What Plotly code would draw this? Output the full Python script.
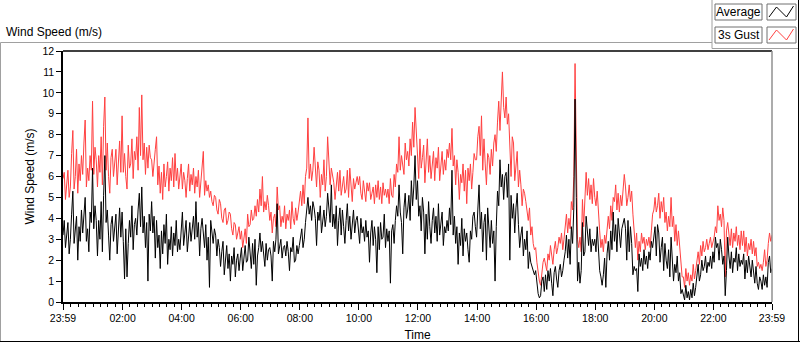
import pandas as pd
import plotly.graph_objects as go

# ---- data: 2.5-minute samples from 23:59 to 23:59 next day (one row per hour) ----
gust = [
    5.9, 6.2, 4.9, 5.6, 6.3, 5.0, 5.5, 7.1, 8.2, 5.4, 6.0, 7.3, 5.2, 6.6, 5.8, 7.0, 6.1, 7.6, 8.7, 5.5, 6.4, 5.8, 7.0, 6.3,
    9.6, 6.1, 7.4, 6.8, 5.5, 7.0, 6.2, 7.9, 5.6, 8.4, 9.8, 6.3, 7.6, 6.0, 5.2, 6.9, 7.3, 6.0, 6.5, 7.3, 5.6, 6.8, 7.7, 6.2,
    8.9, 6.2, 7.1, 6.0, 5.4, 7.5, 6.4, 6.6, 7.8, 5.9, 7.2, 6.8, 7.9, 6.3, 9.3, 7.0, 9.9, 6.8, 7.6, 6.1, 7.4, 6.4, 7.5, 6.9,
    6.8, 6.0, 6.5, 7.3, 7.9, 5.6, 6.5, 5.2, 6.2, 4.9, 6.6, 5.5, 6.0, 6.7, 5.3, 6.4, 5.8, 6.9, 5.5, 7.1, 5.8, 6.4, 5.4, 6.0,
    6.6, 5.4, 6.2, 5.8, 5.0, 5.9, 6.6, 5.3, 6.1, 5.6, 6.4, 5.2, 6.0, 5.5, 6.3, 5.0, 5.9, 6.5, 7.2, 5.1, 5.8, 5.3, 5.6, 5.0,
    5.3, 4.8, 4.6, 5.1, 5.0, 4.4, 4.2, 4.9, 4.7, 4.0, 3.8, 4.4, 4.5, 3.7, 3.9, 4.3, 4.2, 3.5, 3.2, 3.8, 3.7, 3.0, 3.4, 3.6,
    3.0, 3.4, 2.6, 3.2, 3.5, 2.8, 4.2, 3.6, 3.7, 4.4, 3.9, 4.0, 4.6, 4.1, 4.9, 4.3, 5.4, 4.6, 6.0, 4.3, 4.8, 4.4, 5.1, 4.6,
    3.9, 4.3, 3.3, 4.0, 4.2, 3.6, 5.5, 4.4, 4.6, 3.6, 4.1, 3.8, 4.6, 3.5, 4.2, 3.9, 4.4, 3.5, 4.8, 4.0, 3.7, 4.5, 3.9, 4.3,
    4.9, 5.3, 4.6, 5.6, 4.7, 6.0, 6.4, 8.8, 5.9, 6.6, 5.8, 6.3, 7.4, 6.2, 5.5, 6.7, 6.3, 5.0, 6.1, 5.6, 6.8, 5.3, 6.0, 7.9,
    6.5, 5.6, 6.4, 6.1, 5.7, 4.9, 5.8, 6.2, 5.3, 6.3, 5.1, 5.7, 6.0, 5.2, 5.4, 6.3, 5.0, 6.4, 5.5, 4.8, 5.9, 5.4, 5.7, 6.0,
    5.6, 6.0, 5.2, 4.9, 5.8, 5.4, 4.8, 5.7, 5.3, 5.7, 4.9, 5.2, 5.5, 4.7, 5.6, 5.0, 5.8, 4.9, 5.5, 4.7, 5.7, 5.1, 5.4, 5.0,
    5.4, 4.7, 5.9, 5.1, 5.0, 6.1, 5.5, 6.6, 6.2, 7.9, 6.3, 7.0, 6.5, 6.1, 7.6, 6.8, 7.2, 6.5, 7.8, 7.0, 8.6, 7.4, 9.3, 8.1,
    7.2, 5.9, 7.8, 6.4, 6.9, 7.5, 5.7, 6.6, 7.8, 6.2, 7.0, 5.9, 6.4, 7.2, 5.8, 6.9, 6.4, 7.4, 5.8, 6.7, 7.2, 6.1, 6.8, 6.3,
    7.3, 6.9, 7.6, 6.8, 8.3, 6.5, 7.0, 5.6, 6.8, 6.2, 4.9, 6.1, 5.7, 6.6, 5.3, 6.3, 4.7, 6.4, 5.8, 6.6, 5.4, 6.2, 7.1, 6.8,
    6.8, 7.9, 8.4, 7.0, 8.9, 6.3, 7.8, 6.6, 5.6, 7.1, 6.9, 6.1, 7.3, 6.5, 7.6, 8.0, 7.2, 8.6, 9.6, 8.2, 10.0, 11.0, 9.3, 8.8,
    9.8, 8.5, 9.0, 7.3, 6.0, 7.9, 7.6, 5.8, 6.6, 7.2, 5.5, 6.3, 5.6, 4.6, 5.4, 5.2, 4.8, 4.2, 3.9, 4.5, 3.2, 3.6, 2.8, 2.5,
    2.6, 1.9, 1.3, 1.0, 0.8, 1.5, 1.9, 2.1, 1.7, 1.5, 2.3, 2.0, 2.7, 2.2, 1.8, 2.5, 2.9, 2.3, 2.6, 3.1, 2.8, 3.3, 2.5, 3.0,
    3.6, 4.2, 3.3, 4.0, 3.5, 4.8, 4.4, 6.0, 11.4, 7.2, 3.0, 2.6, 3.1, 2.4, 4.9, 3.6, 5.4, 6.2, 5.1, 5.9, 4.9, 5.6, 4.7, 5.9,
    5.0, 4.6, 5.3, 4.1, 3.4, 2.6, 3.0, 2.4, 3.2, 2.8, 3.6, 4.1, 3.5, 4.6, 3.9, 5.0, 4.8, 5.6, 4.4, 5.2, 4.3, 5.1, 4.6, 5.4,
    6.1, 5.5, 4.6, 5.0, 5.6, 4.8, 5.3, 4.2, 3.2, 2.6, 3.3, 2.0, 2.9, 2.4, 3.3, 2.8, 3.1, 2.5, 3.0, 2.7, 3.1, 2.6, 3.4, 4.2,
    4.4, 5.0, 4.3, 4.6, 5.2, 4.0, 4.8, 4.3, 5.0, 3.8, 4.3, 3.4, 4.1, 3.6, 5.0, 3.6, 4.1, 2.9, 3.7, 2.7, 3.4, 2.5, 1.6, 1.2,
    1.2, 0.7, 1.6, 1.0, 1.4, 0.8, 1.3, 1.0, 1.8, 1.1, 1.5, 1.9, 2.4, 1.8, 2.7, 2.2, 2.9, 2.4, 2.6, 3.0, 2.5, 2.8, 3.1, 2.6,
    2.9, 3.1, 3.6, 3.3, 4.6, 3.9, 4.2, 3.6, 4.5, 3.9, 1.2, 3.4, 3.8, 3.1, 2.7, 3.5, 2.6, 3.3, 2.9, 3.6, 2.7, 3.2, 2.5, 3.4,
    2.7, 3.4, 2.4, 3.1, 2.2, 2.8, 2.5, 3.0, 2.3, 2.9, 2.2, 2.6, 1.7, 1.9, 1.6, 1.8, 1.5, 1.9, 2.5, 1.7, 2.0, 2.8, 3.3, 2.9,
    3.2,
]
average = [
    3.2, 3.9, 2.6, 3.4, 3.8, 2.3, 3.0, 4.2, 5.3, 2.8, 3.4, 4.1, 2.0, 3.6, 2.9, 4.4, 3.3, 4.0, 5.0, 2.9, 3.5, 2.4, 4.3, 3.8,
    6.4, 3.5, 4.6, 3.9, 2.2, 3.9, 3.0, 4.8, 2.4, 5.1, 7.0, 3.8, 4.4, 3.2, 2.0, 3.7, 4.1, 2.9, 3.4, 4.2, 2.3, 3.8, 4.5, 3.1,
    4.3, 2.9, 1.1, 3.5, 1.2, 2.8, 3.9, 3.1, 4.6, 2.5, 3.7, 4.0, 3.2, 4.4, 5.2, 3.6, 5.5, 3.3, 4.1, 2.6, 3.8, 1.0, 4.2, 3.4,
    4.8, 3.3, 4.1, 2.1, 3.9, 2.6, 3.2, 1.6, 3.4, 2.3, 3.7, 2.8, 4.2, 1.8, 3.0, 2.5, 3.6, 2.2, 3.3, 2.7, 3.9, 2.4, 3.0, 2.5,
    3.6, 4.3, 2.7, 3.5, 3.9, 2.4, 3.2, 3.8, 2.9, 3.4, 4.1, 3.0, 4.8, 3.1, 3.8, 2.2, 3.5, 4.0, 3.3, 2.6, 3.7, 2.0, 3.1, 0.7,
    3.9, 3.4, 2.8, 3.5, 3.2, 2.2, 3.0, 2.6, 1.7, 2.4, 2.9, 1.3, 2.1, 2.7, 1.6, 2.3, 1.0, 2.2, 1.8, 2.6, 1.2, 2.0, 2.3, 1.5,
    2.1, 2.6, 1.5, 2.2, 2.7, 1.9, 2.0, 3.1, 2.4, 1.6, 2.8, 1.8, 3.0, 0.8, 2.2, 2.6, 3.3, 2.4, 2.9, 2.2, 1.7, 2.8, 2.0, 2.5,
    2.6, 2.2, 1.0, 2.9, 2.4, 3.0, 4.7, 2.3, 2.8, 3.0, 2.1, 2.6, 2.7, 2.2, 2.9, 2.4, 1.5, 2.6, 2.4, 3.1, 1.9, 2.0, 2.7, 2.3,
    2.7, 3.2, 3.5, 2.6, 3.0, 3.8, 4.4, 5.0, 4.2, 4.6, 3.9, 4.8, 4.5, 4.0, 2.7, 4.3, 3.9, 4.6, 3.3, 3.8, 4.4, 3.6, 4.1, 5.2,
    4.3, 3.8, 5.6, 3.6, 4.2, 3.5, 4.6, 2.7, 3.9, 4.5, 3.2, 4.4, 3.6, 2.8, 3.9, 4.7, 3.4, 4.1, 3.0, 3.8, 4.4, 3.3, 3.9, 4.1,
    3.5, 2.8, 4.0, 3.3, 3.6, 2.9, 3.9, 3.1, 3.4, 1.9, 3.3, 3.9, 2.7, 3.6, 3.0, 1.4, 3.6, 2.5, 3.8, 3.0, 3.1, 4.2, 2.6, 3.5,
    2.9, 3.4, 0.9, 3.4, 3.7, 2.8, 3.9, 4.6, 4.1, 5.6, 4.3, 3.8, 2.3, 4.5, 5.2, 4.0, 4.4, 5.1, 3.9, 5.8, 4.6, 5.5, 7.0, 4.9,
    5.8, 4.1, 4.6, 3.4, 5.0, 4.3, 2.3, 4.2, 3.0, 4.8, 3.6, 2.8, 3.9, 4.5, 3.3, 4.1, 2.9, 4.7, 3.2, 3.8, 4.3, 2.7, 3.6, 3.3,
    3.9, 3.4, 4.5, 3.7, 6.3, 3.2, 4.1, 2.8, 3.6, 1.8, 3.3, 2.7, 4.0, 2.2, 3.5, 2.9, 3.3, 2.5, 1.9, 3.4, 3.0, 4.1, 4.3, 3.6,
    3.1, 4.4, 5.6, 3.5, 4.3, 2.4, 3.8, 4.2, 2.0, 4.5, 3.2, 2.6, 3.9, 2.8, 3.4, 1.0, 3.6, 5.3, 4.6, 6.8, 5.5, 6.1, 4.9, 6.0,
    6.2, 5.0, 6.6, 2.0, 5.1, 4.0, 4.7, 3.3, 4.5, 5.2, 3.7, 2.6, 3.2, 3.6, 2.2, 3.0, 2.5, 3.4, 1.6, 2.4, 1.9, 1.7, 1.5, 1.3,
    1.5, 0.8, 0.4, 0.2, 0.3, 1.0, 1.2, 0.5, 1.3, 0.6, 1.5, 1.0, 1.6, 0.9, 0.3, 1.4, 1.7, 1.1, 0.7, 1.5, 1.8, 1.2, 1.5, 2.0,
    2.4, 3.2, 2.1, 3.0, 1.8, 3.6, 2.8, 4.5, 9.7, 5.0, 1.0, 1.9, 0.9, 1.5, 3.8, 2.2, 2.4, 4.1, 3.3, 2.7, 3.5, 2.4, 3.0, 2.7,
    3.0, 2.4, 3.6, 2.1, 1.5, 1.2, 0.8, 1.3, 2.1, 0.7, 2.3, 2.9, 2.0, 3.4, 2.5, 4.3, 2.9, 3.7, 2.4, 4.0, 3.2, 2.6, 3.5, 3.8,
    4.0, 3.5, 2.0, 3.9, 2.4, 3.6, 2.8, 1.3, 1.7, 1.5, 1.6, 0.5, 2.3, 1.7, 2.1, 1.5, 2.5, 1.8, 2.2, 1.6, 2.4, 2.0, 2.9, 2.6,
    3.0, 3.6, 2.2, 3.7, 3.3, 1.9, 2.6, 3.1, 1.5, 2.8, 2.0, 1.6, 2.5, 1.2, 3.1, 2.0, 1.0, 1.8, 1.4, 2.2, 1.0, 1.4, 0.4, 0.6,
    0.3, 0.1, 0.8, 0.2, 0.5, 0.1, 0.6, 0.2, 0.9, 0.3, 0.7, 1.2, 1.8, 1.0, 1.3, 2.0, 1.5, 1.7, 2.2, 1.4, 1.9, 1.7, 2.2, 1.6,
    2.4, 1.9, 3.1, 2.6, 2.8, 2.0, 3.0, 2.5, 1.8, 2.2, 0.3, 1.5, 3.1, 2.2, 1.6, 2.4, 1.4, 2.1, 1.9, 2.6, 1.5, 2.3, 1.7, 2.0,
    1.8, 2.3, 1.1, 2.0, 1.4, 2.2, 1.7, 1.2, 2.0, 1.5, 0.9, 1.7, 0.9, 0.6, 1.2, 1.0, 0.6, 1.3, 0.8, 1.2, 0.7, 1.9, 2.2, 1.4,
    1.6,
]
start_time = "2020-01-01 23:59"
end_time = "2020-01-02 23:59"
tick_times = ["2020-01-01 23:59", "2020-01-02 02:00", "2020-01-02 04:00",
              "2020-01-02 06:00", "2020-01-02 08:00", "2020-01-02 10:00",
              "2020-01-02 12:00", "2020-01-02 14:00", "2020-01-02 16:00",
              "2020-01-02 18:00", "2020-01-02 20:00", "2020-01-02 22:00",
              "2020-01-02 23:59"]
tick_labels = ["23:59", "02:00", "04:00", "06:00", "08:00", "10:00", "12:00",
               "14:00", "16:00", "18:00", "20:00", "22:00", "23:59"]
y_ticks = list(range(0, 13))

times = pd.date_range(start_time, periods=len(gust), freq="150s")

FONT = "Liberation Sans, Arial, sans-serif"
W, H = 800, 342
L, R, T, B = 63, 28, 51, 40
PW, PH = W - L - R, H - T - B


def px(x):
    return (x - L) / PW


def py(y):
    return (H - B - y) / PH


fig = go.Figure()
fig.add_trace(go.Scatter(x=times, y=gust, mode="lines", name="3s Gust",
                         line=dict(color="#ff4040", width=1)))
fig.add_trace(go.Scatter(x=times[:len(average)], y=average, mode="lines", name="Average",
                         line=dict(color="#000000", width=1)))

shapes = []
# outer frame
shapes.append(dict(type="line", xref="paper", yref="paper", x0=px(0.5), x1=px(712), y0=py(42.5), y1=py(42.5),
                   line=dict(color="#a0a0a0", width=1)))
shapes.append(dict(type="line", xref="paper", yref="paper", x0=px(0.5), x1=px(0.5), y0=py(42.5), y1=py(341),
                   line=dict(color="#a0a0a0", width=1)))
shapes.append(dict(type="line", xref="paper", yref="paper", x0=px(712), x1=px(712), y0=py(0), y1=py(48.5),
                   line=dict(color="#a0a0a0", width=1)))
shapes.append(dict(type="line", xref="paper", yref="paper", x0=px(712), x1=px(798), y0=py(48.5), y1=py(48.5),
                   line=dict(color="#a0a0a0", width=1)))
shapes.append(dict(type="line", xref="paper", yref="paper", x0=px(798.5), x1=px(798.5), y0=py(0), y1=py(341.5),
                   line=dict(color="#000000", width=1)))
shapes.append(dict(type="line", xref="paper", yref="paper", x0=px(0), x1=px(800), y0=py(341.5), y1=py(341.5),
                   line=dict(color="#000000", width=1)))
# plot frame top / right
shapes.append(dict(type="line", xref="paper", yref="paper", x0=0, x1=1, y0=1, y1=1,
                   line=dict(color="#000000", width=1.5)))
shapes.append(dict(type="line", xref="paper", yref="paper", x0=1, x1=1, y0=0, y1=1,
                   line=dict(color="#909090", width=1.5)))
# legend boxes
for (y0, y1) in [(4, 20), (27, 43)]:
    shapes.append(dict(type="rect", xref="paper", yref="paper", x0=px(715), x1=px(762), y0=py(y1), y1=py(y0),
                       line=dict(color="#707070", width=1), fillcolor="white"))
    shapes.append(dict(type="rect", xref="paper", yref="paper", x0=px(767), x1=px(796), y0=py(y1), y1=py(y0),
                       line=dict(color="#707070", width=1), fillcolor="white"))


def zig(yoff, color):
    pts = [(769, 17 + yoff), (776.5, 7 + yoff), (786.5, 17 + yoff), (793.5, 6 + yoff)]
    path = "M " + " L ".join(f"{px(a)},{py(b)}" for a, b in pts)
    return dict(type="path", xref="paper", yref="paper", path=path, line=dict(color=color, width=1))


shapes.append(zig(0, "#000000"))
shapes.append(zig(23, "#ff4040"))

annotations = [
    dict(text="Wind Speed (m/s)", xref="paper", yref="paper", x=px(4), y=py(32), xanchor="left", yanchor="middle",
         showarrow=False, font=dict(family=FONT, size=12, color="#000")),
    dict(text="Average", xref="paper", yref="paper", x=px(738.5), y=py(12), xanchor="center", yanchor="middle",
         showarrow=False, font=dict(family=FONT, size=12, color="#000")),
    dict(text="3s Gust", xref="paper", yref="paper", x=px(738.5), y=py(35), xanchor="center", yanchor="middle",
         showarrow=False, font=dict(family=FONT, size=12, color="#000")),
]

fig.update_layout(
    width=W, height=H,
    margin=dict(l=L, r=R, t=T, b=B, pad=0, autoexpand=False),
    paper_bgcolor="white", plot_bgcolor="white",
    showlegend=False,
    hovermode=False,
    shapes=shapes,
    annotations=annotations,
    font=dict(family=FONT, size=10.5, color="#000"),
    xaxis=dict(
        range=[start_time, end_time], automargin=False,
        tickmode="array", tickvals=tick_times, ticktext=tick_labels,
        ticks="outside", ticklen=6, tickwidth=1, tickcolor="#000",
        showline=True, linecolor="#000", linewidth=1.5,
        showgrid=False, zeroline=False,
        tickfont=dict(family=FONT, size=10.5, color="#000"),
        title=dict(text="Time", font=dict(family=FONT, size=12, color="#000"), standoff=7),
        minor=dict(ticks="outside", ticklen=3, tickcolor="#000", dtick=900000,
                   tick0="2020-01-02 00:00", showgrid=False),
    ),
    yaxis=dict(
        range=[0, 12], automargin=False,
        tickmode="array", tickvals=y_ticks,
        ticks="outside", ticklen=5, tickwidth=1, tickcolor="#000",
        showline=True, linecolor="#000", linewidth=1.5,
        showgrid=False, zeroline=False,
        tickfont=dict(family=FONT, size=10.5, color="#000"),
        title=dict(text="Wind Speed (m/s)", font=dict(family=FONT, size=12, color="#000"), standoff=5),
    ),
)

fig.write_html("out.html", config={"displayModeBar": False},
               post_script="document.body.style.margin='0';")
